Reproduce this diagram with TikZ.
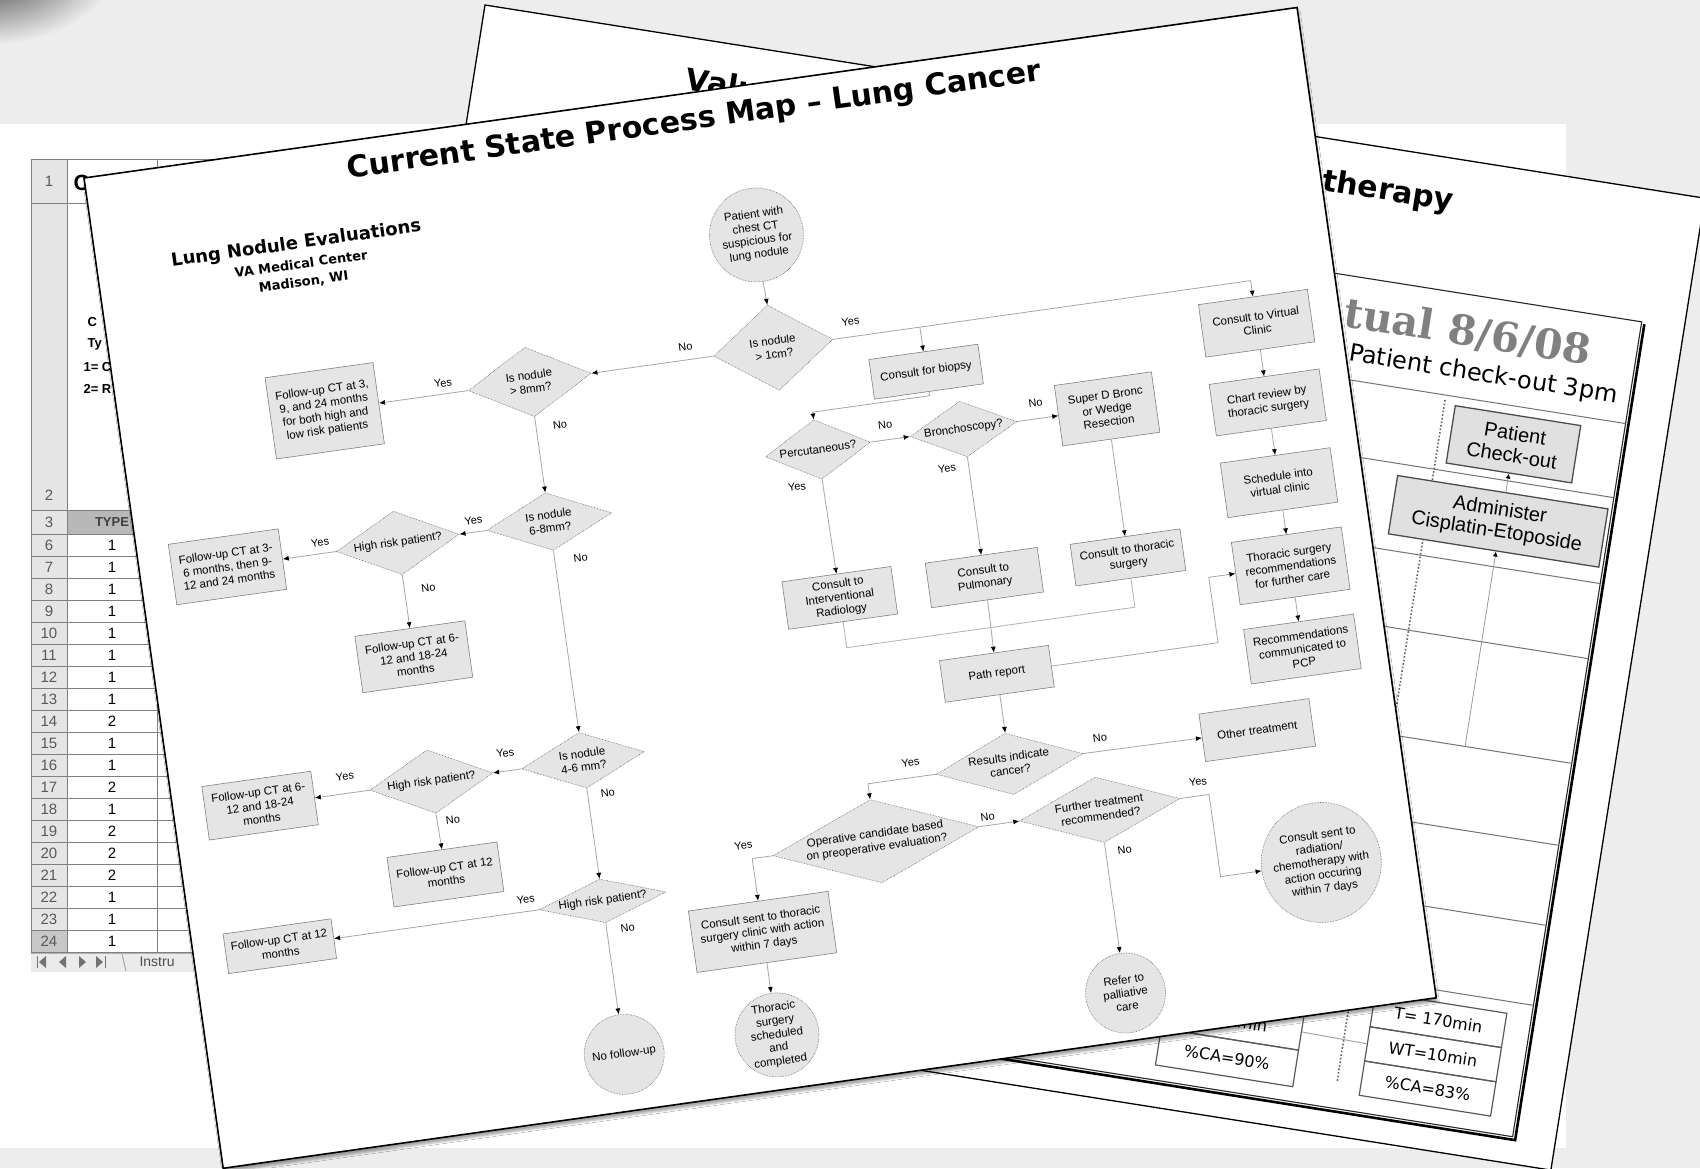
\documentclass[tikz,border=0pt]{standalone}
\usepackage{fontspec}
\setmainfont{Liberation Sans}
\newfontfamily\dvsans{DejaVu Sans}
\newfontfamily\dvserif{DejaVu Serif}
\usetikzlibrary{shapes.geometric,arrows.meta,shadows.blur}

\begin{document}
\begin{tikzpicture}[x=1pt,y=-1pt,
% Flowchart symbols style
    box/.style={rectangle,draw=black!50,fill=black!10,line width=0.6pt,
        align=center,inner sep=1pt,font=\fontsize{11.5}{13.5}\selectfont},
    dec/.style={diamond,draw=black!60,fill=black!10,densely dotted,
        line width=0.6pt,aspect=2,align=center,inner sep=0pt,
        font=\fontsize{11.5}{13.5}\selectfont},
    term/.style={circle,draw=black!60,fill=black!10,densely dotted,
        line width=0.6pt,align=center,inner sep=0pt,
        font=\fontsize{11.5}{13.5}\selectfont},
    sz/.style 2 args={minimum width=#1,minimum height=#2},
% Label style
    lbl/.style={font=\fontsize{11}{13}\selectfont},
% Connector style
    arr/.style={draw=black!35,line width=0.8pt,
        -{Latex[length=6pt,width=5pt,color=black]}},
    joinln/.style={draw=black!30,line width=0.8pt},
% Back pages style
    pagetitle/.style={font=\dvsans\bfseries\fontsize{30}{34}\selectfont},
    vsmbox/.style={rectangle,draw=black!70,fill=black!12,line width=1.3pt,
        align=center,inner sep=2pt,font=\fontsize{20}{22}\selectfont},
    metric/.style={rectangle,draw=black!65,line width=1.2pt,
        inner sep=0pt,font=\dvsans\fontsize{16}{18}\selectfont},
    vsmline/.style={draw=black!55,line width=1pt},
    vsmarr/.style={draw=black!40,line width=0.8pt,
        -{Latex[length=5pt,width=5pt,color=black]}},
% Spreadsheet style
    rowno/.style={font=\fontsize{15}{16}\selectfont,text=black!65},
    cellval/.style={font=\fontsize{15}{16}\selectfont},
    celltxt/.style={font=\bfseries\fontsize{13}{15}\selectfont,anchor=west},
    sheetln/.style={draw=black!50,line width=1pt}
    ]
\useasboundingbox (0,0) rectangle (1700,1168);
\fill[black!7] (0,0) rectangle (1700,1168);
\shade[inner color=black!80,outer color=black!7] (-15,-35) ellipse [x radius=130,y radius=80];

%% Spreadsheet in the back
\fill[white] (0,124) rectangle (1566,1148);
\fill[black!10] (31,159) rectangle (67,953);
\fill[black!28] (67,510) rectangle (600,534);
\fill[black!22] (31,930) rectangle (67,952);
\foreach \y in {159,203,510,534}
    \draw[sheetln] (31,\y) -- (600,\y);
\foreach \x in {31,67,157}
    \draw[sheetln] (\x,159) -- (\x,953);
\node[rowno] (rn1) at (49,181) {1};
\node[font=\bfseries\fontsize{22}{24}\selectfont,anchor=west] (r1txt) at (70,183) {C};
\node[rowno] (rn2) at (49,495) {2};
\node[celltxt] (r2a) at (84,322) {C};
\node[celltxt] (r2b) at (84,344) {Ty};
\node[celltxt] (r2c) at (80,367) {1= C};
\node[celltxt] (r2d) at (80,389) {2= R};
\node[rowno] (rn3) at (49,522) {3};
\node[font=\bfseries\fontsize{13}{15}\selectfont,text=black!75] (typ) at (112,522) {TYPE};
\foreach \r/\t [count=\j from 0] in {6/1,7/1,8/1,9/1,10/1,11/1,12/1,13/1,14/2,
        15/1,16/1,17/2,18/1,19/2,20/2,21/2,22/1,23/1,24/1}{
    \node[rowno] (rn\r) at (49,545+22*\j) {\r};
    \node[cellval] (cv\r) at (112,545+22*\j) {\t};
    \draw[sheetln] (31,556+22*\j) -- (600,556+22*\j);
}
\fill[black!8] (31,953) rectangle (600,972);
\draw[sheetln,black!30] (31,953) -- (600,953);
\draw[black!55,line width=1pt] (37,956) -- (37,968) (105,956) -- (105,968);
\fill[black!55] (46,956) -- (39,962) -- (46,968) -- cycle
    (66,956) -- (59,962) -- (66,968) -- cycle
    (79,956) -- (86,962) -- (79,968) -- cycle
    (96,956) -- (103,962) -- (96,968) -- cycle;
\draw[black!35,line width=1pt] (122,954) -- (126,971);
\node[font=\fontsize{14}{16}\selectfont,text=black!70,anchor=west] (tab) at (136,962) {Instru};

%% Value stream page
\begin{scope}[shift={(485,5)},rotate=-9,transform shape]
\fill[white,draw=black,line width=1.3pt] (0,0) rectangle (1235,984);
\node[pagetitle,anchor=base west] (valu) at (207,52) {Valu};
\node[pagetitle,anchor=base east] (thpy) at (991,52) {otherapy};
\draw[line width=1.1pt,black!85] (60,132) rectangle (1192,957);
\draw[line width=2.6pt] (1195,134) -- (1195,960) -- (62,960);
\node[font=\dvserif\bfseries\fontsize{41}{46}\selectfont,text=black!50,anchor=base east] (actual) at (1150,183) {tual 8/6/08};
\node[font=\dvsans\fontsize{24}{26}\selectfont,anchor=base east] (chk3) at (1183,216) {Patient check-out 3pm};
\foreach \v in {235,310,397,473,579,662,743,824}
    \draw[vsmline] (60,\v) -- (1192,\v);
\draw[line width=1.6pt,black!60,dotted] (1010,240) -- (1010,930);
\node[vsmbox,sz={127}{58}] (pco) at (1084.5,273) {Patient\\Check-out};
\node[vsmbox,sz={213}{59}] (adm) at (1081.5,351.5) {Administer\\Cisplatin-Etoposide};
\coordinate (admin) at (1084,579);
\draw[vsmarr] (admin) -- (admin |- adm.south);
\draw[vsmarr] (adm.north -| pco.south) -- (pco.south);
\foreach \t [count=\i from 0] in {T= 170min,WT=10min,\%CA=83\%}
    \node[metric,sz={133}{34.7}] (rm\i) at (1100.5,853.35+34.7*\i) {\t};
\node[metric,sz={139}{37}] (lm1) at (897.5,886.5) {\hspace*{40pt}min};
\node[metric,sz={139}{37}] (lm2) at (897.5,923.5) {\%CA=90\%};
\draw[vsmline,black!35] (lm1.east) -- (rm1.west);
\end{scope}

%% Process map page
\begin{scope}[shift={(84,178)},rotate=8,transform shape]
\fill[white,draw=black,line width=1.6pt,
    blur shadow={shadow xshift=1pt,shadow yshift=-4pt,shadow opacity=35}]
    (0,0) rectangle (1225,1000);
\node[pagetitle] (ttl) at (612,29) {Current State Process Map – Lung Cancer};
\node[font=\dvsans\bfseries\fontsize{18}{21}\selectfont] (lne) at (201,95) {Lung Nodule Evaluations};
\node[font=\dvsans\bfseries\fontsize{13}{15}\selectfont] (lnv) at (203,115) {VA Medical Center};
\node[font=\dvsans\bfseries\fontsize{13}{15}\selectfont] (lnm) at (203,134) {Madison, WI};

%% Nodule size branch
\node[term,minimum size=94] (start) at (658,150) {Patient with\\chest CT\\suspicious for\\lung nodule};
\node[dec,sz={120}{86}] (d1) at (659,264) {Is nodule\\> 1cm?};
\node[dec,sz={124}{70}] (d2) at (413,264) {Is nodule\\> 8mm?};
\node[box,sz={109}{82}] (b1) at (206,264) {Follow-up CT at 3,\\9, and 24 months\\for both high and\\low risk patients};
\node[dec,sz={126}{58}] (d3) at (413,405) {Is nodule\\6-8mm?};
\node[dec,sz={124}{64}] (d4) at (260,405) {High risk patient?};
\node[box,sz={111}{61}] (b2) at (88,405) {Follow-up CT at 3-\\6 months, then 9-\\12 and 24 months};
\node[box,sz={111}{57}] (b3) at (260,520) {Follow-up CT at 6-\\12 and 18-24\\months};
\node[dec,sz={124}{56}] (d5) at (413,646) {Is nodule\\4-6 mm?};
\node[dec,sz={124}{64}] (d6) at (260,646) {High risk patient?};
\node[box,sz={110}{54}] (b4) at (87,646) {Follow-up CT at 6-\\12 and 18-24\\months};
\node[box,sz={111}{50}] (b5) at (261,740) {Follow-up CT at 12\\months};
\node[dec,sz={128}{44},aspect=3] (d7) at (413,788) {High risk patient?};
\node[box,sz={109}{40}] (b6) at (87,788) {Follow-up CT at 12\\months};
\node[term,minimum size=80] (nofu) at (413,943) {No follow-up};

%% Biopsy and cancer branch
\node[box,sz={110}{40}] (b7) at (807,309) {Consult for biopsy};
\node[dec,sz={106}{60}] (d8) at (689,371) {Percutaneous?};
\node[dec,sz={108}{56}] (d9) at (836,371) {Bronchoscopy?};
\node[box,sz={98}{61}] (b8) at (981,371) {Super D Bronc\\or Wedge\\Resection};
\node[box,sz={110}{48}] (b9) at (690,521) {Consult to\\Interventional\\Radiology};
\node[box,sz={113}{45}] (b10) at (836,521) {Consult to\\Pulmonary};
\node[box,sz={111}{42}] (b11) at (981,521) {Consult to thoracic\\surgery};
\node[box,sz={110}{42}] (b12) at (835,618) {Path report};
\node[box,sz={110}{53}] (b13) at (1141,307) {Consult to Virtual\\Clinic};
\node[box,sz={111}{52}] (b14) at (1141,387) {Chart review by\\thoracic surgery};
\node[box,sz={111}{55}] (b15) at (1141,468) {Schedule into\\virtual clinic};
\node[box,sz={111}{63}] (b16) at (1141,552) {Thoracic surgery\\recommendations\\for further care};
\node[box,sz={111}{55}] (b17) at (1141,636) {Recommendations\\communicated to\\PCP};
\node[dec,sz={148}{62},aspect=2.4] (d10) at (835,709) {Results indicate\\cancer?};
\node[box,sz={111}{48}] (b18) at (1085,710) {Other treatment};
\node[dec,sz={208}{84},aspect=2.45] (d11) at (692,767) {Operative candidate based\\on preoperative evaluation?};
\node[dec,sz={162}{66},aspect=2.45] (d12) at (918,767) {Further treatment\\recommended?};
\node[term,minimum size=120] (radio) at (1130,850) {Consult sent to\\radiation/\\chemotherapy with\\action occuring\\within 7 days};
\node[box,sz={141}{62}] (b19) at (567,841) {Consult sent to thoracic\\surgery clinic with action\\within 7 days};
\node[term,minimum size=84] (surg) at (567,945) {Thoracic\\surgery\\scheduled\\and\\completed};
\node[term,minimum size=80] (pall) at (918,952) {Refer to\\palliative\\care};

%% Edges
\draw[arr] (start.south) -- (d1.north);
\draw[arr] (d1.west) -- (d2.east);
\draw[arr] (d1.east) -| (b13.north);
\draw[arr] (b7.north |- d1.east) -- (b7.north);
\draw[arr] (d2.west) -- (b1.east);
\draw[arr] (d2.south) -- (d3.north);
\draw[arr] (d3.west) -- (d4.east);
\draw[arr] (d4.west) -- (b2.east);
\draw[arr] (d4.south) -- (b3.north);
\draw[arr] (d3.south) -- (d5.north);
\draw[arr] (d5.west) -- (d6.east);
\draw[arr] (d6.west) -- (b4.east);
\draw[arr] (d6.south) -- (b5.north);
\draw[arr] (d5.south) -- (d7.north);
\draw[arr] (d7.west) -- (b6.east);
\draw[arr] (d7.south) -- (nofu.north);
\draw[arr] (b7.south) -- ++(0,4) -| (d8.north);
\draw[arr] (d8.east) -- (d9.west);
\draw[arr] (d9.east) -- (b8.west);
\draw[arr] (d8.south) -- (b9.north);
\draw[arr] (d9.south) -- (b10.north);
\draw[arr] (b8.south) -- (b11.north);
\draw[arr] (b10.south) -- (b12.north);
\draw[joinln] (b9.south) -- ++(0,26) -| (b11.south);
\draw[arr] (b12.east) -- ++(168,0) |- (b16.west);
\draw[arr] (b13.south) -- (b14.north);
\draw[arr] (b14.south) -- (b15.north);
\draw[arr] (b15.south) -- (b16.north);
\draw[arr] (b16.south) -- (b17.north);
\draw[arr] (b12.south) -- (d10.north);
\draw[arr] (d10.east) -- (b18.west);
\draw[arr] (d10.west) -| (d11.north);
\draw[arr] (d11.east) -- (d12.west);
\draw[arr] (d11.west) -| (b19.north);
\draw[arr] (b19.south) -- (surg.north);
\draw[arr] (d12.east) -- ++(29,0) |- (radio.west);
\draw[arr] (d12.south) -- (pall.north);

%% Yes / No labels
\node[lbl] (l1n) at (572,251) {No};
\node[lbl] (l1y) at (739,249) {Yes};
\node[lbl] (l2y) at (327,253) {Yes};
\node[lbl] (l2n) at (437,311) {No};
\node[lbl] (l3y) at (338,393) {Yes};
\node[lbl] (l3n) at (439,445) {No};
\node[lbl] (l4y) at (183,394) {Yes};
\node[lbl] (l4n) at (284,454) {No};
\node[lbl] (l5y) at (337,628) {Yes};
\node[lbl] (l5n) at (433,682) {No};
\node[lbl] (l6y) at (175,629) {Yes};
\node[lbl] (l6n) at (276,687) {No};
\node[lbl] (l7y) at (337,776) {Yes};
\node[lbl] (l7n) at (434,818) {No};
\node[lbl] (l8n) at (759,356) {No};
\node[lbl] (l8y) at (663,405) {Yes};
\node[lbl] (l9n) at (911,355) {No};
\node[lbl] (l9y) at (814,408) {Yes};
\node[lbl] (l10y) at (737,694) {Yes};
\node[lbl] (l10n) at (928,696) {No};
\node[lbl] (l11y) at (560,753) {Yes};
\node[lbl] (l11n) at (806,758) {No};
\node[lbl] (l12y) at (1019,753) {Yes};
\node[lbl] (l12n) at (937,810) {No};
\end{scope}
\end{tikzpicture}
\end{document}
